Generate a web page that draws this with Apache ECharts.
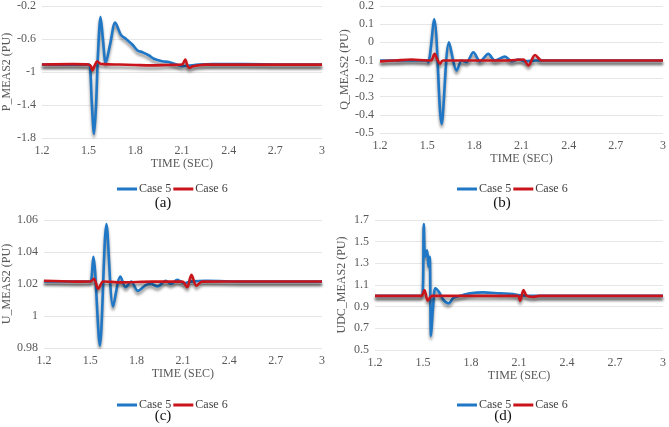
<!DOCTYPE html>
<html><head><meta charset="utf-8">
<script src="https://cdn.jsdelivr.net/npm/echarts@6/dist/echarts.min.js"></script>
<style>html,body{margin:0;padding:0;background:#fff}#c{width:669px;height:427px}</style>
</head><body><div id="c"></div>
<script>
// x ticks
const xTicks = [1.2, 1.5, 1.8, 2.1, 2.4, 2.7, 3];
const seriesNames = ['Case 5', 'Case 6'];
const panelLabels = ['(a)', '(b)', '(c)', '(d)'];
const yNames = ['P_MEAS2 (PU)', 'Q_MEAS2 (PU)', 'U_MEAS2 (PU)', 'UDC_MEAS2 (PU)'];
const yMin = [-1.8, -0.5, 0.98, 0.5];
const yMax = [-0.2, 0.2, 1.06, 1.7];
const yStep = [0.4, 0.1, 0.02, 0.2];

// (a) P
const pT5 = [1.2, 1.4, 1.5, 1.51, 1.52, 1.535, 1.548, 1.56, 1.577, 1.592, 1.61, 1.64, 1.671, 1.708, 1.741, 1.783, 1.815, 1.846, 1.889, 1.92, 1.973, 2.015, 2.079, 2.1, 2.14, 2.206, 2.3, 2.5, 2.75, 3.0];
const pV5 = [-0.91, -0.91, -0.91, -0.95, -1.35, -1.75, -1.4, -0.8, -0.33, -0.6, -0.89, -0.65, -0.40, -0.55, -0.6, -0.67, -0.74, -0.76, -0.80, -0.84, -0.87, -0.88, -0.92, -0.93, -0.925, -0.91, -0.905, -0.905, -0.91, -0.91];
const pT6 = [1.2, 1.4, 1.5, 1.515, 1.525, 1.54, 1.555, 1.575, 1.6, 1.7, 1.8, 1.9, 2.0, 2.1, 2.121, 2.135, 2.146, 2.17, 2.2, 2.25, 2.5, 2.75, 3.0];
const pV6 = [-0.91, -0.905, -0.91, -0.93, -0.98, -0.92, -0.87, -0.9, -0.905, -0.91, -0.915, -0.92, -0.915, -0.91, -0.85, -0.92, -0.95, -0.93, -0.92, -0.91, -0.91, -0.91, -0.91];

// (b) Q
const qT5 = [1.2, 1.4, 1.5, 1.507, 1.545, 1.592, 1.639, 1.688, 1.72, 1.75, 1.794, 1.836, 1.889, 1.93, 1.995, 2.038, 2.08, 2.12, 2.2, 2.3, 2.4, 2.6, 2.8, 3.0];
const qV5 = [-0.10, -0.10, -0.10, -0.11, 0.127, -0.45, 0.0, -0.155, -0.10, -0.11, -0.055, -0.105, -0.064, -0.10, -0.079, -0.105, -0.095, -0.105, -0.10, -0.10, -0.10, -0.10, -0.10, -0.10];
const qT6 = [1.2, 1.3, 1.4, 1.5, 1.525, 1.547, 1.567, 1.582, 1.6, 1.8, 2.0, 2.112, 2.143, 2.186, 2.229, 2.4, 2.6, 2.8, 3.0];
const qV6 = [-0.105, -0.10, -0.095, -0.10, -0.10, -0.064, -0.10, -0.119, -0.10, -0.10, -0.10, -0.095, -0.128, -0.07, -0.10, -0.10, -0.10, -0.10, -0.10];

// (c) U
const uT5 = [1.2, 1.4, 1.488, 1.503, 1.52, 1.562, 1.605, 1.648, 1.695, 1.729, 1.765, 1.808, 1.861, 1.893, 1.936, 1.989, 2.021, 2.064, 2.106, 2.15, 2.25, 2.5, 2.75, 3.0];
const uV5 = [1.0216, 1.0216, 1.0216, 1.0216, 1.037, 0.9815, 1.0575, 1.006, 1.0247, 1.018, 1.0216, 1.0157, 1.0195, 1.020, 1.0185, 1.022, 1.020, 1.0226, 1.0205, 1.0215, 1.022, 1.0215, 1.0215, 1.0215];
const uT6 = [1.2, 1.4, 1.503, 1.524, 1.552, 1.584, 1.7, 1.9, 2.096, 2.127, 2.155, 2.187, 2.223, 2.4, 2.6, 2.8, 3.0];
const uV6 = [1.022, 1.0215, 1.0216, 1.0233, 1.017, 1.0216, 1.021, 1.0215, 1.0215, 1.018, 1.0257, 1.0189, 1.0215, 1.0216, 1.0216, 1.0216, 1.0216];

// (d) UDC
const dT5 = [1.2, 1.4, 1.495, 1.505, 1.513, 1.526, 1.534, 1.542, 1.55, 1.563, 1.577, 1.598, 1.629, 1.66, 1.69, 1.732, 1.794, 1.876, 1.98, 2.062, 2.093, 2.2, 2.4, 2.7, 3.0];
const dV5 = [1.0, 1.0, 1.0, 1.663, 1.36, 1.42, 1.27, 1.36, 0.63, 0.90, 1.07, 1.04, 0.96, 0.93, 0.98, 1.0, 1.023, 1.032, 1.023, 1.017, 1.008, 1.0, 1.0, 1.0, 1.0];
const dT6 = [1.2, 1.4, 1.489, 1.509, 1.53, 1.557, 1.7, 1.9, 2.093, 2.107, 2.128, 2.148, 2.186, 2.227, 2.4, 2.7, 3.0];
const dV6 = [1.0, 1.0, 1.0, 1.054, 0.955, 1.0, 1.0, 1.0, 1.0, 0.955, 1.054, 1.0, 0.99, 1.0, 1.0, 1.0, 1.0];

const panels = [[pT5, pV5, pT6, pV6], [qT5, qV5, qT6, qV6], [uT5, uV5, uT6, uV6], [dT5, dV5, dT6, dV6]];
const zip = (t, v) => t.map((x, i) => [x, v[i]]);

const gridPos = [
  {left: 38, top: 3, width: 284, height: 135},
  {left: 380, top: 5, width: 283, height: 128},
  {left: 40, top: 220, width: 282, height: 128},
  {left: 375, top: 220, width: 292, height: 130}
];
const legendPos = [{left: 112, top: 178}, {left: 452, top: 178}, {left: 112, top: 394}, {left: 452, top: 394}];
const labelPos = [{x: 163, y: 203}, {x: 502, y: 203}, {x: 163, y: 416}, {x: 503, y: 416}];
const colors = ['#1f77c6', '#c8141a'];
const font = 'Liberation Serif';
const txtColor = '#595959';
const fmt = v => String(parseFloat(v.toFixed(3)));

const option = {
  animation: false,
  textStyle: {fontFamily: font},
  grid: gridPos.map(g => Object.assign({containLabel: false}, g)),
  xAxis: gridPos.map((g, i) => ({
    type: 'value', gridIndex: i, min: 1.2, max: 3, interval: 0.3,
    name: 'TIME (SEC)', nameLocation: 'middle', nameGap: 19,
    nameTextStyle: {fontFamily: font, fontSize: 12, color: txtColor},
    axisLine: {show: false}, axisTick: {show: false},
    splitLine: {show: false},
    axisLabel: {fontFamily: font, fontSize: 12, color: txtColor, margin: 7, formatter: fmt}
  })),
  yAxis: gridPos.map((g, i) => ({
    type: 'value', gridIndex: i, min: yMin[i], max: yMax[i], interval: yStep[i],
    name: yNames[i], nameLocation: 'middle', nameGap: i % 2 === 0 ? 26 : 27,
    nameTextStyle: {fontFamily: font, fontSize: 12, color: txtColor},
    axisLine: {show: false}, axisTick: {show: false},
    splitLine: {show: true, lineStyle: {color: '#e6e6e6', width: 1}},
    axisLabel: {fontFamily: font, fontSize: 12, color: txtColor, margin: 6, formatter: fmt}
  })),
  legend: legendPos.map(p => ({
    left: p.left, top: p.top, orient: 'horizontal', itemGap: 2,
    itemWidth: 20, itemHeight: 3, icon: 'rect',
    textStyle: {fontFamily: font, fontSize: 12, color: '#404040', padding: [0, 0, 0, -3]},
    data: seriesNames
  })),
  graphic: panelLabels.map((t, i) => ({
    type: 'text', x: labelPos[i].x, y: labelPos[i].y,
    style: {text: t, font: '15px "Liberation Serif"', fill: '#111', textAlign: 'center', textVerticalAlign: 'middle'}
  })),
  series: []
};
panels.forEach((p, i) => {
  [0, 1].forEach(k => {
    option.series.push({
      type: 'line', name: seriesNames[k], xAxisIndex: i, yAxisIndex: i,
      data: zip(p[2 * k], p[2 * k + 1]), symbol: 'none', smooth: 0.3,
      color: colors[k],
      lineStyle: {width: 2.6, color: colors[k], shadowColor: 'rgba(0,0,0,0.45)', shadowBlur: 3, shadowOffsetY: 3}
    });
  });
});
const chart = echarts.init(document.getElementById('c'), null, {renderer: 'canvas'});
chart.setOption(option);
</script></body></html>
